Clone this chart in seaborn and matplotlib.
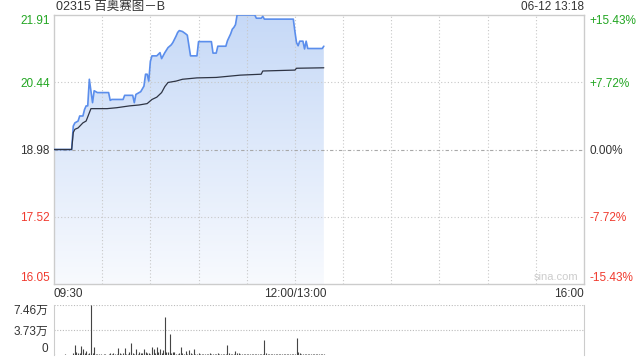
import numpy as np
import pandas as pd
import matplotlib
matplotlib.use("Agg")
import matplotlib.pyplot as plt
import seaborn as sns
from matplotlib.colors import to_rgb

# ---------------- data ----------------
price_times = ["09:30", "09:41", "09:42", "09:43", "09:45", "09:46", "09:48", "09:49", "09:50", "09:51",
               "09:52", "09:54", "09:55", "09:56", "09:57", "10:04", "10:05", "10:06", "10:13", "10:14",
               "10:19", "10:20", "10:21", "10:24", "10:25", "10:26", "10:27", "10:28", "10:29", "10:30",
               "10:31", "10:34", "10:36", "10:37", "10:39", "10:41", "10:43", "10:44", "10:46", "10:47",
               "10:48", "10:50", "10:52", "10:53", "10:55", "10:59", "11:00", "11:08", "11:09", "11:11",
               "11:12", "11:17", "11:18", "11:20", "11:21", "11:22", "11:23", "11:24", "11:35", "11:36",
               "11:39", "11:40", "11:41", "11:59", "12:00", "13:01", "13:02", "13:03", "13:05", "13:06",
               "13:07", "13:08", "13:17", "13:18"]
price_vals = [18.98, 18.98, 19.49, 19.56, 19.60, 19.71, 19.71, 19.85, 19.93, 19.93,
              20.51, 20.00, 20.26, 20.24, 20.22, 20.22, 20.05, 20.07, 20.07, 20.16,
              20.16, 20.00, 20.18, 20.24, 20.30, 20.36, 20.62, 20.62, 20.47, 20.90,
              21.02, 21.02, 21.09, 20.96, 21.09, 21.20, 21.26, 21.31, 21.45, 21.53,
              21.57, 21.55, 21.50, 21.47, 21.02, 21.02, 21.33, 21.33, 21.08, 21.08,
              21.23, 21.23, 21.35, 21.50, 21.60, 21.64, 21.70, 21.91, 21.91, 21.84,
              21.84, 21.88, 21.82, 21.82, 21.55, 21.31, 21.24, 21.34, 21.34, 21.17,
              21.34, 21.18, 21.18, 21.23]

avg_times = ["09:30", "09:41", "09:42", "09:43", "09:45", "09:48", "09:50", "09:52", "09:53", "10:03",
             "10:09", "10:17", "10:23", "10:28", "10:31", "10:34", "10:37", "10:39", "10:41", "10:46",
             "10:50", "10:59", "11:11", "11:20", "11:26", "11:39", "11:40", "12:00", "13:01", "13:18"]
avg_vals = [18.98, 18.98, 19.35, 19.42, 19.45, 19.56, 19.60, 19.78, 19.87, 19.87,
            19.89, 19.93, 19.95, 19.98, 20.07, 20.12, 20.22, 20.35, 20.44, 20.47,
            20.51, 20.54, 20.55, 20.58, 20.60, 20.62, 20.69, 20.71, 20.75, 20.76]

# per-minute volume from 09:30 (index 0) to 13:18 (index 168)
volume = [800, 600, 500, 700, 400, 600, 500, 900, 600, 500, 700, 600,
          3000, 15600, 4000, 2500, 3500, 14100, 9000, 3000, 6500, 2000, 3500, 74600, 2500, 11600,
          1500, 1200, 800, 1000, 700, 1500, 900, 600, 1800, 2500, 1200, 3500, 1000, 2000,
          10600, 2500, 1500, 3000, 10100, 2000, 1200, 4000, 18100, 3000, 2000, 9000, 1500, 5000,
          2500, 3000, 9000, 4000, 2500, 3000, 2000, 12600, 9000, 3000, 11600, 4000, 9000, 3500,
          7600, 56000, 4000, 5000, 31700, 2500, 4000, 5000, 2000, 1500, 3000, 12600, 2500, 1500,
          6500, 2000, 8000, 2500, 1500, 9000, 2000, 1500, 3000, 1200, 1000, 1500, 800, 1200,
          1000, 2500, 1500, 1000, 2000, 1200, 3500, 1500, 1000, 1200, 800, 2000, 15100, 2500,
          1000, 1500, 1200, 6500, 3500, 3000, 2000, 1500, 1200, 1000, 800, 1200, 1000, 900,
          800, 1000, 1500, 1200, 1000, 800, 1200, 22000, 2500, 1500, 1000, 1200, 900, 1000,
          800, 1200, 1000, 900, 1100, 800, 1000, 900, 1200, 1000, 1500, 1200, 2000, 26000,
          4000, 2500, 1500, 1000, 2000, 1200, 1500, 1000, 800, 1200, 1000, 900, 1500, 800,
          1000, 1200, 900]

prev_close = 18.98
price_ticks = [16.05, 17.52, 18.98, 20.44, 21.91]
price_labels = ["16.05", "17.52", "18.98", "20.44", "21.91"]
pct_labels = ["-15.43%", "-7.72%", "0.00%", "+7.72%", "+15.43%"]
tick_colors = ["#f03a2e", "#f03a2e", "#333333", "#22a622", "#22a622"]
x_tick_labels = ["09:30", "12:00/13:00", "16:00"]
vol_ticks = [0, 37300, 74600]
vol_labels = ["0", "3.73万", "7.46万"]
title = "02315 百奥赛图－B"
stamp = "06-12 13:18"


def tpos(s):
    h, m = map(int, s.split(":"))
    t = h * 60 + m
    return t - 570 if t <= 720 else t - 780 + 150


px = np.array([tpos(t) for t in price_times], dtype=float)
py = np.array(price_vals)
ax_ = np.array([tpos(t) for t in avg_times], dtype=float)
ay = np.array(avg_vals)
vx = np.arange(len(volume))
x_ticks = [tpos("09:30"), tpos("12:00"), tpos("16:00")]

# ---------------- style ----------------
sns.set_style("white")
plt.rcParams["font.family"] = ["Liberation Sans", "Noto Sans CJK SC", "DejaVu Sans"]

fig = plt.figure(figsize=(6.4, 3.6), dpi=100)
W, H = 640, 360
ax = fig.add_axes([54 / W, 1 - 284 / H, 530 / W, 269 / H])
ax.set_xlim(0, 330)
ax.set_ylim(16.05, 21.91)

# gradient fill under price line
c_top = np.array(to_rgb("#c6d9f7"))
c_bot = np.array(to_rgb("#f8fafe"))
t = np.linspace(0, 1, 256).reshape(-1, 1)
img = (c_top * (1 - t) + c_bot * t).reshape(256, 1, 3)
poly = ax.fill_between(px, py, 16.05, facecolor="none", edgecolor="none")
im = ax.imshow(img, extent=[0, 330, 16.05, 21.91], aspect="auto", origin="upper", zorder=1)
im.set_clip_path(poly.get_paths()[0], transform=ax.transData)

# grid (drawn over the fill, as in the reference)
for xv in range(30, 330, 30):
    ax.axvline(xv, color="#c8c8c8", lw=0.8, ls=(0, (1, 2)), zorder=2)
for yv in [17.52, 20.44]:
    ax.axhline(yv, color="#c8c8c8", lw=0.8, ls=(0, (1, 2)), zorder=2)
ax.axhline(prev_close, color="#a8a8a8", lw=0.8, ls=(0, (3, 2, 1, 2)), zorder=2)

sns.lineplot(x=px, y=py, ax=ax, color="#5b8eec", lw=1.2, estimator=None, zorder=3)
sns.lineplot(x=ax_, y=ay, ax=ax, color="#2e3444", lw=0.9, estimator=None, zorder=4)

for s in ax.spines.values():
    s.set_color("#cccccc")
    s.set_linewidth(1)

ax.set_yticks(price_ticks)
ax.set_yticklabels(price_labels, fontsize=8.5)
ax.set_xticks(x_ticks)
ax.set_xticklabels(x_tick_labels, fontsize=8.5, color="#333333")
ax.tick_params(length=0, pad=3)
for lab, c in zip(ax.get_yticklabels(), tick_colors):
    lab.set_color(c)
labs = ax.get_yticklabels()
labs[0].set_va("bottom")
labs[-1].set_va("top")
xl = ax.get_xticklabels()
xl[0].set_ha("left")
xl[-1].set_ha("right")

ax2 = ax.twinx()
ax2.set_ylim(16.05, 21.91)
ax2.set_yticks(price_ticks)
ax2.set_yticklabels(pct_labels, fontsize=8.5)
ax2.tick_params(length=0, pad=4)
for lab, c in zip(ax2.get_yticklabels(), tick_colors):
    lab.set_color(c)
l2 = ax2.get_yticklabels()
l2[0].set_va("bottom")
l2[-1].set_va("top")
for s in ax2.spines.values():
    s.set_visible(False)

ax.text(0.989, 0.026, "sina.com", transform=ax.transAxes, ha="right", va="center",
        fontsize=8, color="#cccccc", zorder=5)

ax.set_xlabel("")
ax.set_ylabel("")

# ---------------- volume panel ----------------
vax = fig.add_axes([54 / W, 1 - 355 / H, 530 / W, 50 / H])
vax.set_xlim(0, 330)
vax.set_ylim(0, 74600)
vax.vlines(vx, 0, volume, color="#444444", lw=0.8)
for yv in [37300, 74600]:
    vax.axhline(yv, color="#bbbbbb", lw=0.8, ls=(0, (1, 1.5)), zorder=0.5)
vax.set_yticks(vol_ticks)
vax.set_yticklabels(vol_labels, fontsize=8.5, color="#333333")
vl = vax.get_yticklabels()
vl[0].set_va("bottom")
vl[-1].set_va("top")
vax.set_xticks([])
vax.tick_params(length=0, pad=4)
vax.spines["top"].set_visible(False)
vax.spines["bottom"].set_visible(False)
vax.spines["left"].set_color("#cccccc")
vax.spines["right"].set_color("#cccccc")

fig.text(56 / W, 1 - 7 / H, title, ha="left", va="center", fontsize=9, color="#333333")
fig.text(584 / W, 1 - 7 / H, stamp, ha="right", va="center", fontsize=8.5, color="#333333")

fig.savefig("out.png", dpi=100)
